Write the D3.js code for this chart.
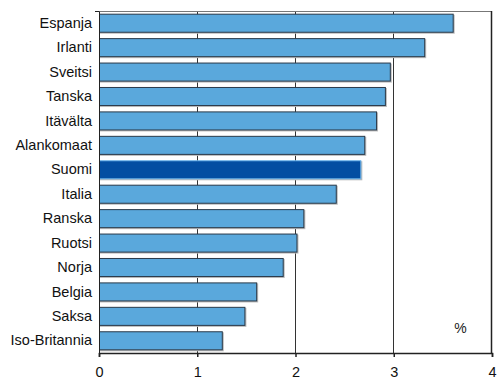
<!DOCTYPE html>
<html><head><meta charset="utf-8">
<script src="https://cdn.jsdelivr.net/npm/d3@7"></script>
<style>body{margin:0;background:#fff}svg{display:block}text{font-family:"Liberation Sans",Arial,sans-serif}</style>
</head><body><svg id="c" width="497" height="380"></svg>
<script>
const countries = ["Espanja","Irlanti","Sveitsi","Tanska","Itävälta","Alankomaat","Suomi","Italia","Ranska","Ruotsi","Norja","Belgia","Saksa","Iso-Britannia"];
const values = [3.61,3.32,2.97,2.92,2.83,2.71,2.67,2.42,2.09,2.02,1.88,1.61,1.49,1.26];
const highlight = "Suomi";
const xTicks = [0,1,2,3,4];
const unitLabel = "%";

const svg = d3.select("#c");
const L = 99, R = 492, T = 11, B = 353;
const x = d3.scaleLinear().domain([0,4]).range([L,R]);
const y = d3.scaleBand().domain(countries).range([T,B]).paddingInner(0.22).paddingOuter(0.11);

// gridlines
svg.append("g").selectAll("line").data(xTicks.slice(1,4)).join("line")
  .attr("x1",d=>x(d)).attr("x2",d=>x(d)).attr("y1",T).attr("y2",B)
  .attr("stroke","#333").attr("stroke-width",1).attr("shape-rendering","crispEdges");
// frame top and right
svg.append("line").attr("x1",L).attr("x2",R).attr("y1",T+0.5).attr("y2",T+0.5).attr("stroke","#777");
svg.append("line").attr("x1",R-0.5).attr("x2",R-0.5).attr("y1",T).attr("y2",B).attr("stroke","#222").attr("stroke-width",1.5);

// bar shadows
svg.append("g").selectAll("rect").data(countries).join("rect")
  .attr("x",L+1).attr("y",d=>y(d)+1)
  .attr("width",(d,i)=>x(values[i])-L).attr("height",y.bandwidth())
  .attr("fill","#bbb");
// bars
svg.append("g").selectAll("rect").data(countries).join("rect")
  .attr("x",L+0.5).attr("y",d=>y(d)+0.5)
  .attr("width",(d,i)=>x(values[i])-L-1).attr("height",y.bandwidth()-1)
  .attr("fill",d=>d===highlight?"#034ea2":"#5aa8dc")
  .attr("stroke",d=>d===highlight?"#6ab4ec":"#2a3a4a").attr("stroke-width",1);

// y axis
const ya = svg.append("g").attr("transform",`translate(${L},0)`)
  .call(d3.axisLeft(y).tickSize(0).tickPadding(7));
ya.select(".domain").attr("stroke","#222");
ya.selectAll("text").attr("font-size",14.5).attr("fill","#111");
svg.append("line").attr("x1",L-4).attr("x2",L).attr("y1",T+0.5).attr("y2",T+0.5).attr("stroke","#222");

// x axis
const xa = svg.append("g").attr("transform",`translate(0,${B})`)
  .call(d3.axisBottom(x).tickValues(xTicks).tickFormat(d3.format("d")).tickSize(4).tickPadding(10));
xa.select(".domain").attr("stroke","#222").attr("stroke-width",1.5);
xa.selectAll(".tick line").attr("stroke","#222").attr("stroke-width",1.5);
xa.selectAll("text").attr("font-size",14.5).attr("fill","#111");

svg.append("text").attr("x",x(3.68)).attr("y",333).attr("text-anchor","middle")
  .attr("font-size",14).attr("fill","#222").text(unitLabel);
</script></body></html>
